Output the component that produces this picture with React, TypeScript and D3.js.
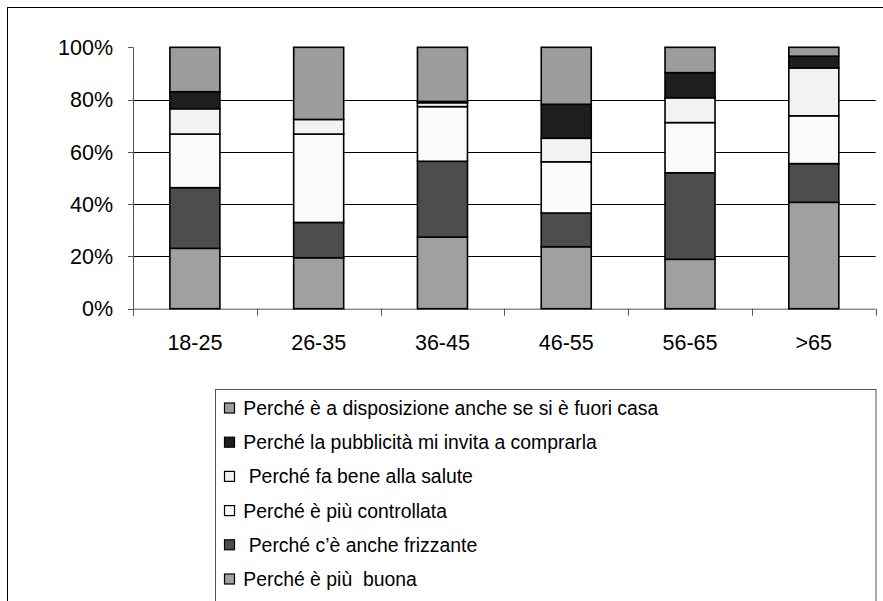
import React from "react";
import * as d3 from "d3";

const categories = ["18-25", "26-35", "36-45", "46-55", "56-65", ">65"];
const seriesNames = [
  "Perché è più  buona",
  " Perché c’è anche frizzante",
  "Perché è più controllata",
  " Perché fa bene alla salute",
  "Perché la pubblicità mi invita a comprarla",
  "Perché è a disposizione anche se si è fuori casa",
];
const seriesColors = ["#a0a0a0", "#4d4d4d", "#fafafa", "#f2f2f2", "#1e1e1e", "#9c9c9c"];
// values per series (bottom to top), per category
const buona = [23.1, 19.5, 27.4, 23.7, 18.9, 40.7];
const frizzante = [23.2, 13.5, 29.0, 12.9, 33.1, 14.8];
const controllata = [20.5, 33.8, 20.9, 19.6, 19.2, 18.3];
const salute = [9.7, 5.6, 1.5, 9.0, 9.5, 18.3];
const pubblicita = [6.5, 0, 0.5, 13.0, 9.6, 4.5];
const disposizione = [17.0, 27.6, 20.7, 21.8, 9.7, 3.4];
const yTicks = [0, 20, 40, 60, 80, 100];

const seriesValues = [buona, frizzante, controllata, salute, pubblicita, disposizione];

export default function App() {
  const W = 883, H = 601;
  const left = 133, right = 875.7, top = 47.3, bottom = 308.7;
  const x = d3.scaleBand<string>().domain(categories).range([left, right]).paddingInner(0.596).paddingOuter(0.298);
  const y = d3.scaleLinear().domain([0, 100]).range([bottom, top]);

  const table = categories.map((c, i) => {
    const row: any = { cat: c };
    seriesValues.forEach((s, k) => (row["s" + k] = s[i]));
    return row;
  });
  const keys = seriesValues.map((_, k) => "s" + k);
  const stacked = d3.stack<any>().keys(keys).offset(d3.stackOffsetExpand)(table);

  const step = x.step();
  const boundaries = d3.range(categories.length + 1).map((i) => left + i * step);

  const legendTop = 389.5;
  const rowGap = 34.2;
  const legendOrder = [5, 4, 3, 2, 1, 0];

  return (
    <svg width={W} height={H} style={{ position: "absolute", left: 0, top: 0, background: "#fff" }}
      fontFamily="Liberation Sans, Arial, sans-serif">
      <rect x={7.5} y={7.5} width={900} height={700} fill="#fff" stroke="#000" strokeWidth={1} />
      {/* grid */}
      {yTicks.filter((t) => t > 0 && t < 100).map((t) => (
        <line key={t} x1={left} x2={right} y1={Math.round(y(t)) + 0.5} y2={Math.round(y(t)) + 0.5} stroke="#000" strokeWidth={1} />
      ))}
      {/* y axis */}
      <line x1={left + 0.5} x2={left + 0.5} y1={top} y2={bottom + 7} stroke="#555" strokeWidth={1} />
      {yTicks.map((t) => (
        <g key={t}>
          <line x1={left - 5} x2={left} y1={Math.round(y(t)) + 0.5} y2={Math.round(y(t)) + 0.5} stroke="#555" />
          <text x={113} y={y(t)} dy="0.36em" textAnchor="end" fontSize={21.5} fill="#000">{t}%</text>
        </g>
      ))}
      {/* x axis */}
      <line x1={left} x2={right} y1={bottom + 0.5} y2={bottom + 0.5} stroke="#555" />
      {boundaries.map((b, i) => (
        <line key={i} x1={Math.round(b) + 0.5} x2={Math.round(b) + 0.5} y1={bottom} y2={bottom + 7} stroke="#555" />
      ))}
      {categories.map((c) => (
        <text key={c} x={(x(c) as number) + x.bandwidth() / 2} y={342.5} dy="0.36em" textAnchor="middle" fontSize={21.5} fill="#000">{c}</text>
      ))}
      {/* bars */}
      {stacked.map((layer, k) => (
        <g key={k} fill={seriesColors[k]} stroke="#000" strokeWidth={1.6}>
          {layer.map((d, i) => {
            const h = y(d[0] * 100) - y(d[1] * 100);
            if (h <= 0) return null;
            return <rect key={i} x={x(categories[i])} y={y(d[1] * 100)} width={x.bandwidth()} height={h} />;
          })}
        </g>
      ))}
      {/* legend */}
      <rect x={215.5} y={legendTop} width={660.5} height={300} fill="#fff" stroke="#555" strokeWidth={1} />
      {legendOrder.map((k, r) => {
        const cy = legendTop + 18.5 + r * rowGap;
        return (
          <g key={k}>
            <rect x={224.5} y={cy - 5} width={10} height={10} fill={seriesColors[k]} stroke="#000" strokeWidth={1.2} />
            <text x={243.3} y={cy} dy="0.36em" fontSize={19.4} fill="#000" style={{ whiteSpace: "pre" }}>{seriesNames[k]}</text>
          </g>
        );
      })}
    </svg>
  );
}
